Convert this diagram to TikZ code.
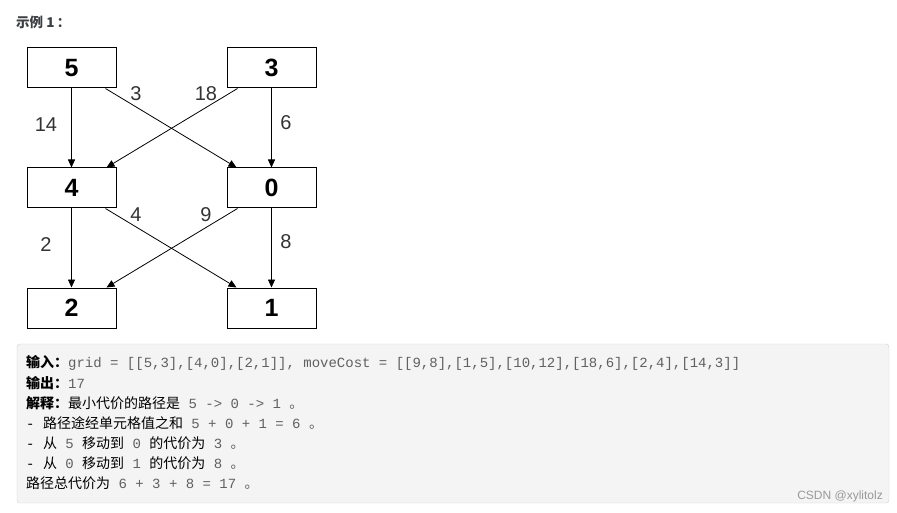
\documentclass[tikz,border=0pt]{standalone}
\usepackage{fontspec}
\usepackage{xcolor}
\usepackage{tikz}
\usetikzlibrary{positioning,arrows.meta}
\setmainfont{Liberation Sans}
\setmonofont{Liberation Mono}
\newfontfamily\cjk{Noto Sans CJK SC}
\definecolor{lblgray}{RGB}{51,51,51}
\definecolor{codegray}{RGB}{96,96,96}
\definecolor{panelfill}{RGB}{244,244,244}
\definecolor{panelline}{RGB}{208,208,208}
\definecolor{titlegray}{RGB}{60,64,67}
\newcommand{\cd}[1]{{\fontsize{14}{20}\ttfamily\color{codegray}#1}}
\newcommand{\dash}{{\fontsize{14}{20}\ttfamily -\ }}

\begin{document}
\begin{tikzpicture}[x=1pt, y=-1pt,
  cell/.style={draw, line width=1pt, minimum width=89pt, minimum height=40pt, inner sep=0pt, font=\fontsize{25}{25}\selectfont\bfseries},
  cost/.style={text=lblgray, inner sep=0pt, font=\fontsize{20}{20}\selectfont},
  txtline/.style={anchor=west, inner sep=0pt, font=\fontsize{14}{20}\cjk},
  link/.style={-{Triangle[length=8pt,width=7pt]}, line width=0.8pt}
]
\useasboundingbox (0,0) rectangle (897,513);

\node[anchor=west, inner sep=0pt, text=titlegray, font=\fontsize{13.5}{15}\cjk\bfseries] (title) at (16,22) {示例 1\,：};

\node[cell] (n5) at (71.5,68) {5};
\node[cell] (n3) at (271.5,68) {3};
\node[cell] (n4) at (71.5,188) {4};
\node[cell] (n0) at (271.5,188) {0};
\node[cell] (n2) at (71.5,308) {2};
\node[cell] (n1) at (271.5,308) {1};

\draw[link] (n5.south) -- (n4.north);
\draw[link] ([xshift=-11pt]n5.south east) -- ([xshift=10pt]n0.north west);
\draw[link] ([xshift=11pt]n3.south west) -- ([xshift=-10pt]n4.north east);
\draw[link] (n3.south) -- (n0.north);
\draw[link] (n4.south) -- (n2.north);
\draw[link] ([xshift=-11pt]n4.south east) -- ([xshift=10pt]n1.north west);
\draw[link] ([xshift=11pt]n0.south west) -- ([xshift=-10pt]n2.north east);
\draw[link] (n0.south) -- (n1.north);

\node[cost] (c14) at (46,124.5) {14};
\node[cost] (c3) at (136,94) {3};
\node[cost] (c18) at (206,94) {18};
\node[cost] (c6) at (286,122.5) {6};
\node[cost] (c2) at (46,244.5) {2};
\node[cost] (c4) at (136,215) {4};
\node[cost] (c9) at (206,215) {9};
\node[cost] (c8) at (286,242) {8};

\draw[draw=panelline, fill=panelfill, rounded corners=3pt] (17,344) rectangle (889,503);

\node[txtline] (l1) at (26,363) {{\bfseries 输入：}\cd{grid = [[5,3],[4,0],[2,1]], moveCost = [[9,8],[1,5],[10,12],[18,6],[2,4],[14,3]]}};
\node[txtline] (l2) at (26,383) {{\bfseries 输出：}\cd{17}};
\node[txtline] (l3) at (26,403) {{\bfseries 解释：}最小代价的路径是\cd{\ 5 -> 0 -> 1\ }{\color{codegray}。}};
\node[txtline] (l4) at (26,423) {\dash 路径途经单元格值之和\cd{\ 5 + 0 + 1 = 6\ }{\color{codegray}。}};
\node[txtline] (l5) at (26,443) {\dash 从\cd{\ 5\ }移动到\cd{\ 0\ }的代价为\cd{\ 3\ }{\color{codegray}。}};
\node[txtline] (l6) at (26,463) {\dash 从\cd{\ 0\ }移动到\cd{\ 1\ }的代价为\cd{\ 8\ }{\color{codegray}。}};
\node[txtline] (l7) at (26,483) {路径总代价为\cd{\ 6 + 3 + 8 = 17\ }{\color{codegray}。}};

\node[anchor=east, inner sep=0pt, text=black!40, font=\fontsize{12}{14}\selectfont] (mark) at (883,496) {CSDN @xylitolz};

\end{tikzpicture}
\end{document}
